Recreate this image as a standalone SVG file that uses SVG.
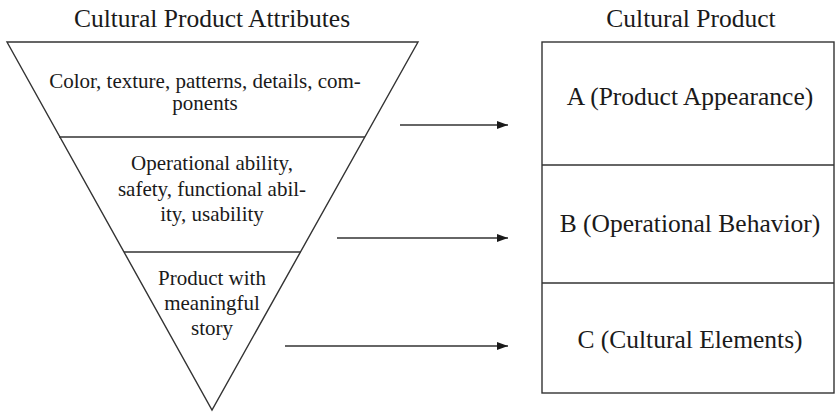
<svg xmlns="http://www.w3.org/2000/svg" width="835" height="414" viewBox="0 0 835 414">
<defs>
<marker id="ah" markerWidth="12" markerHeight="10" refX="11" refY="5" markerUnits="userSpaceOnUse" orient="auto">
<path d="M0,1 L11,5 L0,9 Z" fill="#1a1a1a"/>
</marker>
</defs>
<rect width="835" height="414" fill="#fff"/>
<g font-family="Liberation Serif" fill="#1a1a1a" text-anchor="middle">
<g font-size="25.5">
<text x="212" y="27">Cultural Product Attributes</text>
<text x="691" y="27">Cultural Product</text>
</g>
<g stroke="#333" stroke-width="1.4" fill="none">
<g id="pyramid">
<path d="M7,42 L418,42 L212,410 Z"/>
<line x1="59" y1="137" x2="365" y2="137"/>
<line x1="124" y1="252" x2="301" y2="252"/>
</g>
<g id="product">
<rect x="542" y="42" width="292" height="351"/>
<line x1="542" y1="165" x2="834" y2="165"/>
<line x1="542" y1="283" x2="834" y2="283"/>
</g>
</g>
<g font-size="21">
<g id="attr-appearance">
<text x="205" y="88">Color, texture, patterns, details, com-</text>
<text x="205" y="110">ponents</text>
</g>
<g id="attr-operational">
<text x="212" y="170">Operational ability,</text>
<text x="212" y="196">safety, functional abil-</text>
<text x="212" y="221">ity, usability</text>
</g>
<g id="attr-story">
<text x="212" y="285">Product with</text>
<text x="212" y="310">meaningful</text>
<text x="212" y="335">story</text>
</g>
</g>
<g font-size="25.5">
<g id="product-a"><text x="690" y="105">A (Product Appearance)</text></g>
<g id="product-b"><text x="690" y="232">B (Operational Behavior)</text></g>
<g id="product-c"><text x="690" y="348">C (Cultural Elements)</text></g>
</g>
</g>
<g id="connectors" stroke="#333" stroke-width="1.4">
<line x1="400" y1="125" x2="508" y2="125" marker-end="url(#ah)"/>
<line x1="337" y1="238" x2="508" y2="238" marker-end="url(#ah)"/>
<line x1="285" y1="346" x2="508" y2="346" marker-end="url(#ah)"/>
</g>
</svg>
